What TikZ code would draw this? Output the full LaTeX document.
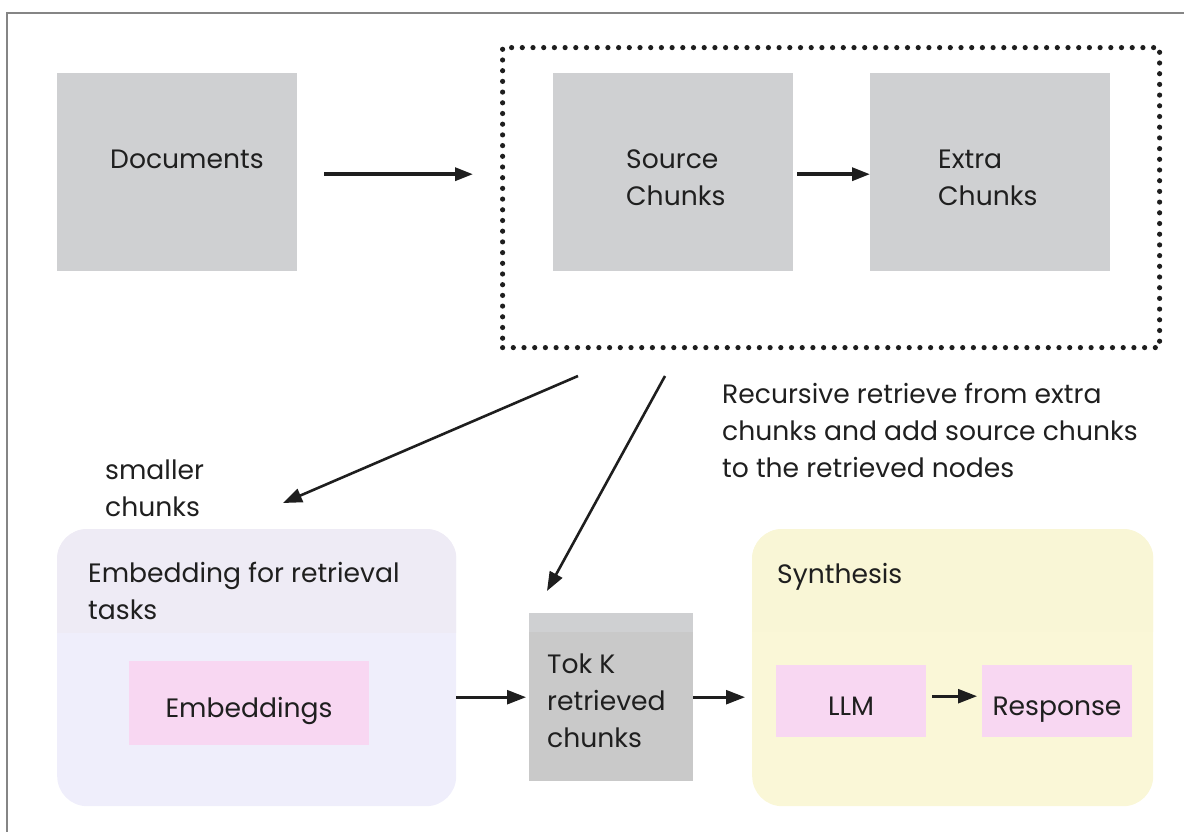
\documentclass[tikz,border=0pt]{standalone}
\usepackage{fontspec}
\setmainfont{Poppins}
\usetikzlibrary{arrows.meta,calc}
\definecolor{boxgray}{HTML}{CFD0D2}
\definecolor{tokgray}{HTML}{C9C9C9}
\definecolor{embA}{HTML}{EEEBF5}
\definecolor{embB}{HTML}{EFEEFB}
\definecolor{pinkbox}{HTML}{F8D7F2}
\definecolor{synA}{HTML}{F9F6D6}
\definecolor{synB}{HTML}{FAF7D7}
\definecolor{framegray}{HTML}{858585}
\definecolor{txt}{HTML}{1F1F1F}
\definecolor{arrcol}{HTML}{1E1E1E}
\begin{document}
\begin{tikzpicture}[x=1pt,y=-1pt,
  blk/.style={fill=#1, inner sep=0, anchor=north west},
  lbl/.style={anchor=base west, align=left, inner sep=0, text=txt, font=\fontsize{26.6}{37}\selectfont},
  clbl/.style={anchor=base, inner sep=0, text=txt, font=\fontsize{26.6}{37}\selectfont},
  arrT/.style={draw=arrcol, line width=3.4, -{Triangle[length=18,width=13]}},
  arr/.style={draw=arrcol, line width=2.6, -{Triangle[length=19,width=14]}},
  dotbox/.style={draw=arrcol, line width=5.2, line cap=round, dash pattern=on 0pt off 10.7pt}
]
\useasboundingbox (0,0) rectangle (1184,832);
% frame
\draw[framegray, line width=2.5] (7,832) -- (7,13) -- (1184,13);

% top row
\node[blk=boxgray, minimum width=240, minimum height=198] (docs) at (57,73) {};
\node[blk=boxgray, minimum width=240, minimum height=198] (src) at (553,73) {};
\node[blk=boxgray, minimum width=240, minimum height=198] (extra) at (870,73) {};
\node[dotbox, inner sep=0, anchor=north west, minimum width=657, minimum height=300] (grp) at (500,45) {};

% embedding group
\node[blk=embB, rounded corners=30, minimum width=399, minimum height=277] (emb) at (57,529) {};
\begin{scope}
  \clip (57,529) rectangle (456,632);
  \fill[embA, rounded corners=30] (emb.north west) rectangle (emb.south east);
\end{scope}
\node[blk=pinkbox, minimum width=240, minimum height=84] (embs) at (129,661) {};

% tok k
\node[blk=tokgray, minimum width=164, minimum height=168] (tok) at (529,613) {};
\fill[boxgray] (tok.north west) rectangle ($(tok.north east)+(0,19)$);

% synthesis group
\node[blk=synB, rounded corners=30, minimum width=401, minimum height=277] (syn) at (752,529) {};
\begin{scope}
  \clip (752,529) rectangle (1153,631);
  \fill[synA, rounded corners=30] (syn.north west) rectangle (syn.south east);
\end{scope}
\node[blk=pinkbox, minimum width=150, minimum height=72] (llm) at (776,665) {};
\node[blk=pinkbox, minimum width=150, minimum height=72] (resp) at (982,665) {};

% connectors
\draw[arrT, shorten <=27, shorten >=27] ($(docs.east)+(0,2)$) -- ($(grp.west |- docs.east)+(0,2)$);
\draw[arrT, shorten <=4] ($(src.east)+(0,2)$) -- ($(extra.west)+(0,2)$);
\coordinate (d1s) at (578,376);
\coordinate (d1e) at (283,503);
\coordinate (d2s) at (665,376);
\coordinate (d2e) at (547,591);
\draw[arr] (d1s) -- (d1e);
\draw[arr] (d2s) -- (d2e);
\draw[arr, shorten >=3] (emb.east |- tok) -- (tok.west);
\draw[arr, shorten >=7] (tok.east) -- (syn.west |- tok);
\draw[arr, shorten <=6, shorten >=5] ($(llm.east)+(0,-5)$) -- ($(resp.west)+(0,-5)$);

% texts (anchor = baseline of the last line)
\node[lbl] (tdocs) at (110,168) {Documents};
\node[lbl] (tsrc) at (626,205) {Source\\Chunks};
\node[lbl] (textra) at (938,205) {Extra\\Chunks};
\node[lbl] (tsmall) at (105,516) {smaller\\chunks};
\node[lbl] (trec) at (722,477) {Recursive retrieve from extra\\chunks and add source chunks\\to the retrieved nodes};
\node[lbl] (temb) at (88,619) {Embedding for retrieval\\tasks};
\node[clbl] (tembs) at (249,717) {Embeddings};
\node[lbl] (ttok) at (547,747) {Tok K\\retrieved\\chunks};
\node[lbl] (tsyn) at (777,583) {Synthesis};
\node[clbl] (tllm) at (851,715) {LLM};
\node[clbl] (tresp) at (1057,715) {Response};
\end{tikzpicture}
\end{document}
